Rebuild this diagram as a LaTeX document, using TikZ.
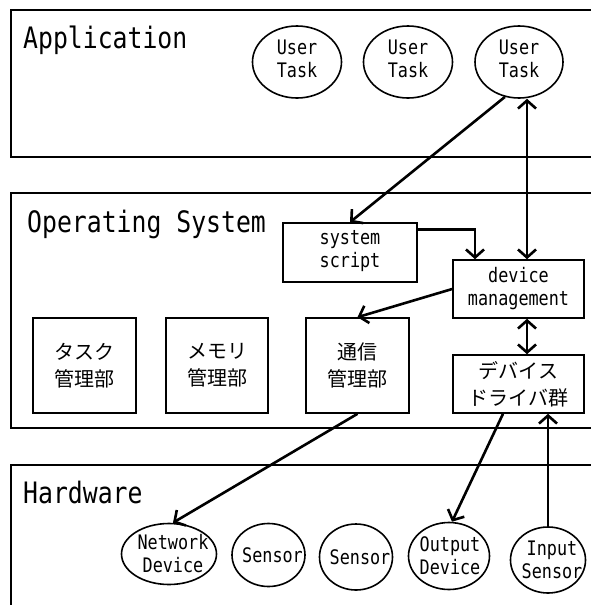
\documentclass[tikz,border=0pt]{standalone}
\usepackage{fontspec}
\newfontfamily\monof[FakeStretch=0.84]{DejaVu Sans Mono}
\newfontfamily\jpf{Noto Sans CJK JP}
\usetikzlibrary{arrows.meta,shapes.geometric,calc}
\begin{document}
\begin{tikzpicture}[x=1pt,y=-1pt,
  layer/.style={draw,line width=1.6pt},
  title/.style={anchor=base west,inner sep=0pt,font=\monof\fontsize{29.5}{30}\selectfont},
  lbl/.style={inner sep=0pt,align=center,font=\monof\fontsize{20}{23}\selectfont},
  jlbl/.style={inner sep=0pt,align=center,font=\jpf\fontsize{20}{27}\selectfont},
  box/.style={draw,line width=1.6pt,inner sep=0pt},
  ell/.style={draw,ellipse,line width=1.6pt,inner sep=0pt},
  barb/.tip={Straight Barb[length=8pt,width=18pt]},
  conn/.style={line width=2.6pt,-barb},
  dconn/.style={line width=2.6pt,barb-barb}
]
\useasboundingbox (0,0) rectangle (591,605);
\clip (0,0) rectangle (591,605);
% layers
\draw[layer] (11,10) rectangle (600,157);
\draw[layer] (11,193) rectangle (600,428);
\draw[layer] (11,465) rectangle (600,630);
\node[title] (tapp) at (23,48) {Application};
\node[title] (tos) at (27,232) {Operating System};
\node[title] (thw) at (23,503) {Hardware};
% user tasks
\node[ell,minimum width=89pt,minimum height=72pt] (ut1) at (297,62) {};
\node[ell,minimum width=89pt,minimum height=72pt] (ut2) at (408,62) {};
\node[ell,minimum width=88pt,minimum height=72pt] (ut3) at (519,62) {};
\node[lbl] at ($(ut1)+(0,-3)$) {User\\Task};
\node[lbl] at ($(ut2)+(0,-3)$) {User\\Task};
\node[lbl] at ($(ut3)+(0,-3)$) {User\\Task};
% OS boxes
\node[box,minimum width=134pt,minimum height=59pt] (sys) at (350,252.5) {};
\node[lbl] at ($(sys)+(0,-1)$) {system\\script};
\node[box,minimum width=131pt,minimum height=58pt] (dev) at (518.5,289) {};
\node[lbl] at ($(dev)+(0,0)$) {device\\management};
\node[box,minimum width=103pt,minimum height=95pt] (task) at (84.5,365.5) {};
\node[jlbl] at (task) {タスク\\管理部};
\node[box,minimum width=102pt,minimum height=95pt] (mem) at (217,365.5) {};
\node[jlbl] at (mem) {メモリ\\管理部};
\node[box,minimum width=103pt,minimum height=95pt] (comm) at (357.5,365.5) {};
\node[jlbl] at (comm) {通信\\管理部};
\node[box,minimum width=131pt,minimum height=58pt] (drv) at (518.5,384) {};
\node[jlbl] at (drv) {デバイス\\ドライバ群};
% hardware
\node[ell,minimum width=95pt,minimum height=61pt] (net) at (169,554) {};
\node[lbl] at ($(net)+(4,0)$) {Network\\Device};
\node[ell,minimum width=73pt,minimum height=63pt] (sen1) at (268.5,555) {};
\node[lbl] at ($(sen1)+(4,0)$) {Sensor};
\node[ell,minimum width=73pt,minimum height=66pt] (sen2) at (356,557) {};
\node[lbl] at ($(sen2)+(4,0)$) {Sensor};
\node[ell,minimum width=81pt,minimum height=67pt] (out) at (449,556) {};
\node[lbl] at ($(out)+(1,0)$) {Output\\Device};
\node[ell,minimum width=75pt,minimum height=66pt] (in) at (548,560) {};
\node[lbl] at ($(in)+(4,0)$) {Input\\Sensor};
% connectors
\coordinate (vx) at (527,0);
\coordinate (sx) at (475,0);
\coordinate (ox) at (503,0);
\draw[conn] (ut3.-112) -- (sys.north);
\draw[dconn] (vx |- ut3.south) -- (vx |- dev.north);
\draw[conn] ($(sys.north east)+(0,7)$) -| (sx |- dev.north);
\draw[conn] (dev.west) -- (comm.north);
\draw[dconn] (vx |- dev.south) -- (vx |- drv.north);
\draw[conn] (comm.south) -- ($(net.north)+(4,0)$);
\draw[conn] (ox |- drv.south) -- ($(out.north)+(3,0)$);
\draw[conn] (in.north) -- (in.north |- drv.south);
\end{tikzpicture}
\end{document}
